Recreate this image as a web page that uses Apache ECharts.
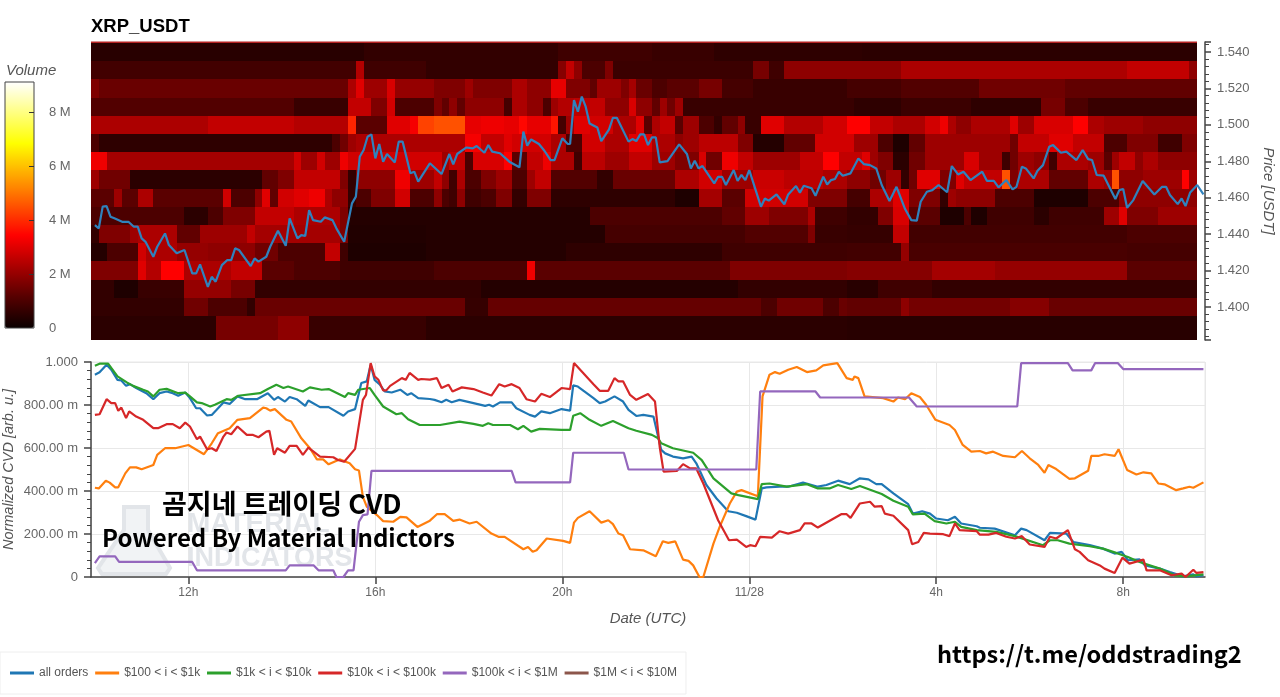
<!DOCTYPE html>
<html><head><meta charset="utf-8">
<style>html,body{margin:0;padding:0;background:#fff}#c{width:1280px;height:697px}</style>
<script src="https://cdn.jsdelivr.net/npm/echarts@6/dist/echarts.min.js"></script>
</head><body><div id="c"></div>
<script>
// All line data are [minutes after 11/27 10:00 UTC, value]
const priceLine=[[0,1.445],[5,1.4432],[10,1.4551],[15,1.4554],[20,1.4496],[25,1.4487],[35,1.4468],[43,1.4468],[50,1.4441],[55,1.4441],[60,1.4377],[65,1.4358],[75,1.4276],[80,1.4331],[90,1.4404],[95,1.434],[105,1.4295],[115,1.4313],[125,1.4185],[130,1.4185],[135,1.4234],[145,1.4111],[150,1.4166],[155,1.4139],[163,1.423],[170,1.4258],[175,1.4258],[180,1.4322],[185,1.4313],[200,1.4225],[205,1.4267],[210,1.4249],[220,1.4276],[225,1.4331],[235,1.4419],[245,1.4336],[250,1.4487],[260,1.4377],[265,1.4395],[270,1.439],[275,1.4532],[280,1.4477],[290,1.4468],[295,1.4492],[305,1.4477],[310,1.4432],[320,1.4358],[330,1.4569],[335,1.4606],[340,1.4825],[345,1.4862],[350,1.4935],[355,1.4948],[360,1.4816],[365,1.4895],[370,1.4798],[375,1.484],[385,1.4794],[390,1.4908],[395,1.4908],[405,1.4734],[410,1.4743],[415,1.4688],[430,1.4789],[445,1.473],[455,1.484],[460,1.4783],[465,1.484],[477,1.4876],[485,1.4871],[490,1.4884],[500,1.4847],[505,1.4889],[510,1.4853],[520,1.4844],[532,1.4798],[545,1.4767],[550,1.4963],[555,1.4886],[560,1.492],[570,1.4895],[577,1.4858],[585,1.4807],[590,1.4807],[600,1.4926],[607,1.4895],[610,1.4895],[615,1.5136],[620,1.5072],[625,1.5155],[630,1.51],[635,1.5008],[645,1.4986],[650,1.4911],[660,1.4975],[665,1.5039],[670,1.5039],[685,1.4908],[690,1.4922],[695,1.4911],[700,1.4948],[705,1.4948],[710,1.4889],[715,1.4931],[720,1.4931],[725,1.4794],[735,1.4801],[750,1.4893],[760,1.484],[765,1.4761],[770,1.4803],[775,1.4761],[780,1.4774],[795,1.4679],[800,1.4715],[805,1.4715],[810,1.467],[820,1.4752],[825,1.4692],[830,1.4725],[835,1.4697],[840,1.4752],[855,1.4551],[860,1.4596],[865,1.4584],[875,1.4618],[885,1.4564],[890,1.4618],[900,1.4664],[905,1.4628],[910,1.4666],[920,1.4652],[925,1.4611],[935,1.4715],[940,1.4673],[945,1.4697],[950,1.4703],[955,1.4743],[960,1.4721],[970,1.4734],[980,1.4816],[987,1.4785],[995,1.4779],[1003,1.4761],[1010,1.467],[1020,1.4582],[1029,1.466],[1040,1.4538],[1048,1.4477],[1055,1.4474],[1060,1.4578],[1068,1.4633],[1075,1.4642],[1083,1.467],[1094,1.463],[1100,1.4774],[1108,1.4728],[1115,1.4743],[1124,1.4697],[1139,1.4743],[1145,1.4693],[1154,1.4693],[1160,1.4657],[1170,1.4697],[1178,1.4646],[1183,1.466],[1190,1.477],[1195,1.4761],[1205,1.4706],[1210,1.4748],[1217,1.4779],[1225,1.488],[1230,1.4889],[1240,1.4847],[1247,1.4853],[1260,1.4807],[1268,1.4862],[1275,1.4812],[1280,1.4807],[1286,1.4725],[1295,1.4721],[1310,1.4593],[1315,1.4642],[1320,1.4648],[1325,1.4545],[1333,1.4587],[1345,1.4692],[1360,1.4618],[1370,1.466],[1375,1.466],[1380,1.4615],[1390,1.4565],[1395,1.4596],[1400,1.4554],[1406,1.4629],[1415,1.467],[1423,1.4618]];
const allOrders=[[0,941],[6,952],[15,987],[21,964],[29,917],[34,914],[40,889],[45,897],[53,879],[66,855],[75,827],[83,855],[92,863],[100,855],[107,843],[116,858],[122,832],[130,785],[135,785],[144,751],[150,754],[156,777],[165,812],[173,805],[183,840],[193,827],[208,827],[222,855],[230,824],[235,837],[244,816],[250,837],[259,827],[270,796],[274,821],[289,790],[300,790],[319,750],[325,770],[334,781],[342,902],[349,910],[354,987],[359,917],[366,894],[372,863],[381,858],[392,871],[401,847],[406,855],[415,832],[430,828],[436,824],[445,813],[451,824],[458,813],[468,824],[486,809],[501,796],[506,801],[511,793],[520,812],[535,812],[541,785],[558,754],[565,746],[573,770],[584,762],[599,781],[610,774],[614,891],[620,886],[640,832],[648,809],[655,816],[667,840],[678,816],[685,777],[695,749],[704,754],[717,746],[727,591],[732,575],[742,560],[755,552],[766,560],[772,529],[785,428],[798,365],[813,306],[824,299],[836,283],[848,267],[856,412],[862,417],[879,420],[890,420],[909,439],[928,420],[939,428],[954,448],[969,432],[982,459],[993,454],[1003,432],[1010,432],[1025,389],[1044,339],[1050,295],[1062,306],[1072,295],[1080,272],[1095,264],[1104,280],[1112,249],[1132,236],[1136,229],[1155,225],[1181,194],[1189,225],[1196,218],[1219,171],[1226,205],[1247,202],[1256,163],[1277,148],[1294,132],[1309,109],[1318,117],[1326,78],[1341,82],[1348,54],[1367,39],[1380,23],[1397,3],[1410,12],[1414,3],[1423,8]];
const usd100to1k=[[0,415],[5,412],[14,448],[19,439],[26,417],[30,417],[39,482],[45,510],[53,510],[60,501],[75,521],[80,568],[90,599],[103,599],[120,614],[140,571],[150,622],[158,669],[173,692],[183,731],[199,739],[216,788],[220,785],[225,774],[231,781],[246,731],[252,723],[265,645],[276,599],[285,547],[293,547],[300,524],[314,547],[327,529],[334,501],[339,495],[344,373],[349,327],[362,288],[370,260],[383,257],[392,280],[400,277],[414,233],[430,262],[439,292],[449,292],[460,261],[468,267],[481,249],[490,257],[509,202],[518,187],[526,187],[550,129],[556,140],[562,117],[567,124],[580,179],[601,168],[610,159],[615,253],[620,275],[635,306],[650,253],[659,264],[665,246],[672,202],[678,194],[687,129],[704,124],[720,96],[729,166],[736,159],[745,166],[755,81],[762,75],[768,54],[776,0],[781,0],[794,155],[802,233],[815,342],[824,397],[830,404],[851,376],[857,840],[866,941],[873,953],[879,945],[890,964],[901,977],[914,953],[926,961],[935,984],[953,995],[965,925],[973,917],[975,933],[980,925],[988,840],[1012,832],[1025,816],[1031,835],[1040,827],[1048,855],[1059,837],[1067,801],[1079,731],[1097,707],[1104,684],[1114,614],[1125,583],[1136,586],[1144,575],[1153,583],[1166,563],[1181,557],[1190,586],[1200,552],[1211,521],[1219,485],[1224,521],[1234,502],[1251,456],[1258,459],[1275,494],[1279,563],[1288,563],[1296,571],[1309,563],[1314,594],[1325,498],[1337,477],[1346,487],[1356,482],[1365,435],[1373,431],[1388,404],[1397,412],[1405,420],[1410,415],[1423,440]];
const usd1kto10k=[[0,983],[6,992],[17,992],[29,933],[41,905],[49,889],[62,871],[68,863],[75,840],[83,871],[92,875],[107,855],[116,858],[122,840],[131,812],[137,809],[148,793],[154,801],[169,827],[175,824],[184,843],[212,855],[222,874],[233,894],[242,879],[248,886],[267,863],[276,882],[291,871],[300,874],[321,837],[325,855],[334,847],[338,871],[353,879],[359,847],[370,793],[387,757],[394,762],[402,734],[417,707],[430,707],[443,707],[468,723],[486,712],[498,703],[505,715],[511,707],[533,707],[543,687],[550,703],[560,676],[571,689],[599,684],[610,684],[614,750],[623,762],[635,731],[650,703],[665,726],[685,692],[695,680],[715,661],[723,645],[727,622],[742,599],[768,578],[779,544],[794,459],[817,389],[826,381],[851,362],[856,432],[866,435],[888,420],[914,432],[928,412],[943,412],[954,428],[971,409],[982,423],[1010,386],[1025,355],[1044,327],[1050,291],[1065,295],[1078,260],[1093,249],[1104,257],[1112,233],[1132,218],[1157,210],[1181,190],[1217,148],[1226,171],[1236,171],[1251,155],[1277,143],[1294,132],[1311,112],[1326,93],[1341,70],[1367,39],[1386,8],[1401,3],[1423,12]];
const usd10kto100k=[[0,754],[6,757],[15,827],[21,809],[26,809],[30,773],[34,788],[40,739],[44,770],[53,746],[62,731],[75,692],[81,692],[92,711],[100,711],[109,692],[116,718],[122,700],[131,641],[135,653],[144,594],[150,599],[156,586],[165,653],[169,672],[175,664],[183,700],[195,661],[203,661],[210,650],[220,676],[224,680],[230,568],[234,599],[244,578],[250,610],[259,610],[267,568],[274,602],[289,560],[306,557],[312,544],[320,536],[334,596],[344,824],[348,847],[354,995],[359,933],[364,917],[370,868],[374,868],[379,889],[394,925],[399,917],[404,949],[415,917],[419,921],[430,918],[439,925],[445,879],[454,894],[459,863],[471,882],[486,874],[498,858],[509,844],[519,897],[526,886],[535,897],[545,879],[554,827],[565,816],[573,852],[584,837],[599,879],[610,874],[615,995],[640,897],[648,866],[659,866],[667,925],[672,910],[678,910],[687,847],[695,824],[710,851],[719,816],[725,606],[730,490],[747,493],[755,525],[764,505],[772,505],[781,435],[800,264],[814,171],[824,174],[836,140],[841,148],[848,143],[854,187],[869,183],[879,213],[890,202],[905,218],[911,249],[920,249],[928,230],[958,292],[965,292],[970,275],[982,342],[995,350],[1001,327],[1010,330],[1014,295],[1025,285],[1044,218],[1049,152],[1057,163],[1064,205],[1072,202],[1089,199],[1097,190],[1104,249],[1110,218],[1132,213],[1136,197],[1147,197],[1157,205],[1170,187],[1181,179],[1190,190],[1200,151],[1219,140],[1226,187],[1234,179],[1249,218],[1258,129],[1264,117],[1275,78],[1290,54],[1296,39],[1309,19],[1319,90],[1328,62],[1346,81],[1350,31],[1367,31],[1382,8],[1395,16],[1400,0],[1410,34],[1414,19],[1423,23]];
const usd100kto1m=[[0,65],[6,96],[26,96],[31,70],[125,70],[131,31],[245,31],[250,54],[281,54],[287,31],[306,31],[310,0],[319,0],[325,31],[332,31],[339,257],[344,288],[350,291],[355,494],[535,494],[540,440],[610,440],[614,578],[679,578],[685,500],[849,500],[854,863],[925,863],[931,835],[1045,835],[1055,793],[1184,793],[1189,995],[1249,995],[1255,961],[1279,961],[1284,995],[1313,995],[1320,967],[1423,967]];
const usd1mto10m=[];
const seriesNames=['all orders','$100 < i < $1k','$1k < i < $10k','$10k < i < $100k','$100k < i < $1M','$1M < i < $10M'];
const yTickLabels={1000:'1.000',800:'800.00 m',600:'600.00 m',400:'400.00 m',200:'200.00 m',0:'0'};
// Volume heat rows (M): [first 10-minute column of a run, volume]
const rowPrices=[1.54,1.53,1.52,1.51,1.50,1.49,1.48,1.47,1.46,1.45,1.44,1.43,1.42,1.41,1.40,1.39];
const heat154=[[0,.45],[35,.6],[60,.8],[72,.7],[80,.55],[99,.5]];
const heat153=[[0,.85],[34,2.4],[35,.8],[43,.6],[60,1.8],[61,2.6],[62,1.9],[63,1],[66,1.7],[67,.75],[85,1.6],[87,.8],[89,1.9],[104,2.3],[133,2.6],[141,1.9]];
const heat152=[[0,1.7],[1,1.4],[33,2.3],[34,3],[35,2.1],[38,2.9],[39,2],[44,1.7],[48,2.1],[49,1.7],[54,2.3],[56,1.9],[59,3.1],[61,1.7],[64,1.3],[65,2.1],[68,1.7],[69,2.2],[70,1.4],[72,1],[74,1.2],[78,1.6],[81,.9],[85,.7],[97,.9],[104,1.1],[114,1.5],[125,1.3]];
const heat151=[[0,1.1],[26,.7],[33,2.6],[36,1.7],[38,2.8],[39,1],[44,1.7],[45,1.3],[46,1.9],[47,1.3],[48,1.9],[53,.9],[54,2.3],[56,1.9],[58,1],[59,2.1],[60,2.4],[62,2.5],[64,2.6],[66,1.9],[69,2.9],[70,1.9],[72,1.3],[73,2.1],[74,1.5],[75,2.1],[76,.7],[98,.55],[104,.75],[113,.55],[122,1.6],[125,1],[128,.7]];
const heat150=[[0,2.3],[15,2.6],[26,2.4],[33,3.9],[34,1.2],[38,3],[41,3.3],[42,4.3],[44,4.5],[48,3.1],[50,3.2],[53,3.1],[55,3.5],[56,3.1],[59,3.7],[60,.9],[61,2.1],[62,3],[64,2.8],[67,2.3],[70,3],[71,1.2],[72,2.3],[73,2.6],[75,1.2],[76,2.1],[78,1],[80,.6],[81,1.3],[83,1.9],[84,.7],[86,3],[89,2.4],[94,2.8],[97,3.4],[100,2.6],[103,2.3],[107,2.8],[109,3.2],[110,2.3],[111,1.9],[113,2.3],[118,3],[119,2.1],[121,2.9],[126,3.4],[128,2.3],[130,2.1],[135,1.9]];
const heat149=[[0,1],[1,.55],[31,1],[32,1.5],[33,2.1],[34,2.3],[48,3.3],[50,2.6],[53,3],[54,2.8],[59,2.3],[61,1],[63,2.8],[66,2.3],[69,3],[72,2.3],[75,1.9],[76,2.1],[78,2.5],[83,1.7],[85,.4],[89,1.3],[93,2.8],[98,2.1],[101,1],[103,.3],[105,1.3],[107,2.1],[118,1.5],[119,2.6],[123,3],[126,2.6],[130,1],[133,1.7],[137,.8],[140,1.7]];
const heat148=[[0,3.2],[2,2.2],[26,2.8],[27,2.1],[29,2.8],[30,2.1],[32,3.2],[33,2.8],[45,2.1],[46,2.6],[48,1],[49,2.9],[53,3.4],[54,1.2],[56,2.6],[58,3.2],[59,2.3],[62,.8],[63,2.5],[66,2.1],[69,2.6],[72,2.1],[75,1.7],[78,2.9],[79,1.5],[81,3.2],[83,2.6],[85,2.1],[91,2.6],[94,3.4],[96,2.6],[99,3],[100,2.1],[101,1.7],[103,.5],[105,1.5],[107,2.1],[112,2.9],[114,2.1],[117,.8],[118,1.5],[119,2.1],[121,1.9],[123,.8],[124,2.3],[128,2.1],[130,1.2],[131,2.1],[132,2.6],[134,1.9],[135,2.3],[137,1.9]];
const heat147=[[0,2.1],[1,1.5],[5,.5],[22,1.3],[24,1.7],[26,2.6],[32,1.7],[33,.6],[34,1.9],[39,3.2],[41,2.1],[44,2.6],[45,1.9],[46,.8],[47,2.3],[48,1],[50,1.7],[52,2.1],[54,1],[56,2.1],[57,2.6],[59,1.1],[65,.6],[67,1.4],[75,2.3],[78,2.8],[81,2.1],[85,2.7],[89,2.5],[94,2.3],[97,1.9],[100,1.5],[102,2.1],[104,.6],[105,1.5],[106,3],[109,1.7],[111,3],[112,2.6],[117,4.5],[118,1.7],[119,2.3],[123,1.3],[128,2.3],[130,2.1],[131,4.5],[132,1.9],[135,2.1],[140,3.4],[141,2.1]];
const heat146=[[0,1.2],[3,2.1],[4,1.2],[6,2.3],[8,1.2],[17,2.8],[18,1],[21,1.9],[22,3],[23,1.3],[24,2.8],[26,3],[28,3.2],[30,2.3],[31,1.9],[33,.6],[34,1],[36,1.7],[39,2.8],[41,1],[44,1.9],[45,1],[46,.8],[47,1.9],[48,.8],[50,1],[52,1.7],[54,.6],[56,1.7],[59,.55],[75,.3],[78,2.2],[81,1.2],[84,2.8],[92,1.7],[97,.9],[100,2.3],[103,3],[105,1.7],[109,.6],[110,2.1],[111,1.9],[116,1],[121,.3],[128,1],[132,1.9]];
const heat145=[[0,1],[12,.5],[15,1],[17,1.7],[21,2.6],[26,2.3],[32,1.7],[33,.4],[64,1],[81,1.3],[84,2.1],[87,1.7],[92,2.3],[93,.8],[97,.6],[101,1.7],[103,2.9],[105,1.2],[109,.3],[112,1],[113,.3],[115,.8],[121,.5],[123,.8],[130,2.1],[132,3],[133,1.7],[137,2.1]];
const heat144=[[0,.6],[1,1.7],[5,2.1],[6,2.3],[11,1.3],[14,2.1],[20,2.6],[21,2.2],[32,1.7],[33,.35],[43,.4],[66,.9],[84,1.1],[92,1.7],[93,.7],[97,.65],[103,2.6],[105,.85],[133,1]];
const heat143=[[0,.4],[2,1],[6,2.8],[7,2.3],[11,2],[15,1.9],[21,1.5],[24,1],[30,2.6],[32,.8],[33,.3],[43,.4],[61,.55],[81,.8],[97,.85],[104,2],[105,.95],[133,.9]];
const heat142=[[0,1.7],[6,3],[7,2.4],[9,3.4],[12,2.3],[18,2.6],[22,1.2],[26,1],[32,.8],[44,1],[56,3.2],[57,1.2],[82,1.7],[97,1.8],[108,2.2],[116,2],[133,1.2]];
const heat141=[[0,.6],[3,.3],[6,.7],[12,2],[18,1.6],[21,.6],[50,.4],[83,.6],[97,.45],[101,.8],[108,.6]];
const heat140=[[0,.6],[12,1.5],[15,1],[20,.6],[21,1.4],[48,.65],[51,1.35],[86,1],[88,1.5],[94,1],[96,1.4],[97,1.3],[104,1.9],[105,1.55],[118,1.8],[123,1.4]];
const heat139=[[0,.5],[16,1.6],[24,1.9],[28,.7],[43,.5],[97,.45]];
const heatRows=[heat154,heat153,heat152,heat151,heat150,heat149,heat148,heat147,heat146,heat145,heat144,heat143,heat142,heat141,heat140,heat139];

const BASE=Date.UTC(2024,10,27,10,0);
const toMs=m=>BASE+m*60000;
const X_MIN=toMs(-5),X_MAX=toMs(1425);
const P_MIN=1.3819,P_MAX=1.5455,COLS=142;
const FONT='"Liberation Sans",Arial,sans-serif';
const heatData=[];
heatRows.forEach((runs,r)=>{
  const p=rowPrices[r];
  const high=r===0?P_MAX:p+0.005, low=r===rowPrices.length-1?P_MIN:p-0.005;
  runs.forEach((run,k)=>{
    const next=k+1<runs.length?runs[k+1][0]:COLS;
    heatData.push([toMs(run[0]*10-5),toMs(next*10-5),low,high,run[1]]);
  });
});
const pts=a=>a.map(d=>[toMs(d[0]),d[1]]);
const cvd=[allOrders,usd100to1k,usd1kto10k,usd10kto100k,usd100kto1m,usd1mto10m];
const colors=['#1f77b4','#ff7f0e','#2ca02c','#d62728','#9467bd','#8c564b'];
const axisDark='#444';
const WM='#e2e5e9';
const chart=echarts.init(document.getElementById('c'),null,{renderer:'canvas'});
chart.setOption({
  animation:false,useUTC:true,backgroundColor:'#fff',
  textStyle:{fontFamily:FONT},
  title:{text:'XRP_USDT',left:91,top:17,padding:0,textStyle:{fontFamily:FONT,fontWeight:'bold',fontSize:18.5,color:'#000'}},
  grid:[
    {left:91,right:75,top:42,height:298,outerBoundsMode:'none'},
    {left:91,right:75,top:362,height:215,show:true,borderColor:'#e8e8e8',borderWidth:1,backgroundColor:'transparent',outerBoundsMode:'none'},
    {left:5,width:29,top:82,height:246,show:true,z:10,borderColor:'#444',borderWidth:1,backgroundColor:'transparent',outerBoundsMode:'none'},
    {left:29,width:5,top:82,height:246,outerBoundsMode:'none'}
  ],
  xAxis:[
    {gridIndex:0,type:'time',min:X_MIN,max:X_MAX,show:false},
    {gridIndex:1,type:'time',min:X_MIN,max:X_MAX,minInterval:4*3600000,maxInterval:4*3600000,
     name:'Date (UTC)',nameLocation:'middle',nameGap:34,nameTextStyle:{fontStyle:'italic',fontSize:15,color:'#555',fontFamily:FONT},
     axisLine:{lineStyle:{color:axisDark,width:1.5}},axisTick:{length:7,lineStyle:{color:axisDark,width:1.5}},
     axisLabel:{color:'#666',fontSize:12,margin:10,showMinLabel:false,showMaxLabel:false,hideOverlap:false,
       formatter:v=>{const d=new Date(v);if(d.getUTCMinutes()!==0||d.getUTCHours()%4!==0)return '';const h=d.getUTCHours();return h===0?'11/28':h+'h';}},
     splitLine:{show:true,lineStyle:{color:'#e8e8e8',width:1}}},
    {gridIndex:2,type:'value',min:0,max:1,show:false},
    {gridIndex:3,type:'value',min:0,max:1,show:false}
  ],
  yAxis:[
    {gridIndex:0,type:'value',position:'right',min:P_MIN,max:P_MAX,splitNumber:8,
     name:'Price [USDT]',nameLocation:'middle',nameRotate:-90,nameGap:55,nameTextStyle:{fontStyle:'italic',fontSize:15,color:'#555',fontFamily:FONT},
     axisLine:{show:true,lineStyle:{color:axisDark,width:1.5}},axisTick:{show:true,length:6,lineStyle:{color:axisDark,width:1.5}},
     minorTick:{show:true,splitNumber:5,length:4,lineStyle:{color:axisDark,width:1}},splitLine:{show:false},
     axisLabel:{color:'#666',fontSize:13,margin:12,showMinLabel:false,showMaxLabel:false,formatter:v=>v.toFixed(3)}},
    {gridIndex:1,type:'value',min:0,max:1000,interval:200,
     name:'Normalized CVD [arb. u.]',nameLocation:'middle',nameRotate:90,nameGap:75,nameMoveOverlap:false,nameTextStyle:{fontStyle:'italic',fontSize:14.5,color:'#555',fontFamily:FONT},
     axisLine:{show:true,lineStyle:{color:axisDark,width:1.5}},axisTick:{show:true,length:7,lineStyle:{color:axisDark,width:1.5}},
     minorTick:{show:true,splitNumber:5,length:4,lineStyle:{color:axisDark,width:1}},
     splitLine:{show:true,lineStyle:{color:'#e8e8e8',width:1}},
     axisLabel:{color:'#666',fontSize:13,margin:13,formatter:v=>yTickLabels[v]}},
    {gridIndex:2,type:'value',position:'right',min:0,max:9.11,interval:2,z:12,
     axisLine:{show:false},axisTick:{show:false},splitLine:{show:false},
     axisLabel:{color:'#666',fontSize:13,margin:15,showMaxLabel:false,formatter:v=>v===0?'0':v+' M'}},
    {gridIndex:3,type:'value',min:0,max:9.11,interval:2,z:12,
     axisLine:{show:false},axisTick:{show:false},axisLabel:{show:false},
     splitLine:{show:true,showMinLine:false,showMaxLine:false,lineStyle:{color:'#333',width:1}}}
  ],
  visualMap:{type:'continuous',show:true,seriesIndex:0,dimension:4,min:0,max:9.11,left:5,top:82,padding:0,itemWidth:29,itemHeight:246,
    calculable:false,hoverLink:false,text:null,
    inRange:{color:['#0a0000','#550000','#aa0000','#ff0000','#ff5500','#ffaa00','#ffff00','#ffff80','#ffffff']}},
  legend:{left:0,top:652,padding:[15,9,15,10],icon:'rect',itemWidth:24,itemHeight:3,itemGap:6.8,borderColor:'#eeeeee',borderWidth:1,
    textStyle:{color:'#555',fontSize:12,fontFamily:FONT},data:seriesNames,selectedMode:false},
  series:[
    {type:'custom',name:'Volume',xAxisIndex:0,yAxisIndex:0,clip:true,silent:true,z:1,
     encode:{x:[0,1],y:[2,3]},data:heatData,
     renderItem:(params,api)=>{
       const a=api.coord([api.value(0),api.value(3)]),b=api.coord([api.value(1),api.value(2)]);
       const x=Math.round(a[0]),y=Math.round(a[1]);
       return {type:'rect',shape:{x,y,width:Math.round(b[0])-x,height:Math.round(b[1])-y},style:{fill:api.visual('color')}};
     }},
    {type:'line',name:'Price',xAxisIndex:0,yAxisIndex:0,data:pts(priceLine),symbol:'none',silent:true,z:3,
     lineStyle:{color:'#2f82bd',width:2.2},itemStyle:{color:'#2f82bd'}},
    ...seriesNames.map((n,i)=>({type:'line',name:n,xAxisIndex:1,yAxisIndex:1,data:pts(cvd[i]),symbol:'none',silent:true,z:3,
      lineStyle:{color:colors[i],width:2.2},itemStyle:{color:colors[i]}}))
  ],
  graphic:[
    {type:'rect',silent:true,z:5,shape:{x:91,y:41.5,width:1106,height:1.5},style:{fill:'#b52222'}},
    {type:'text',silent:true,z:5,x:6,y:71,style:{text:'Volume',font:'italic 15px '+FONT,fill:'#555',textVerticalAlign:'middle'}},
    {type:'polygon',silent:true,z:1,shape:{points:[[124,507],[148,507],[148,530],[170,568],[166,574],[102,574],[98,568],[124,530]]},style:{fill:'#f1f3f5',stroke:WM,lineWidth:4}},
    {type:'text',silent:true,z:1,x:187,y:524,style:{text:'MATERIAL',font:'bold 28px '+FONT,fill:WM,textVerticalAlign:'middle'}},
    {type:'text',silent:true,z:1,x:187,y:559,style:{text:'INDICATORS',font:'bold 27px '+FONT,fill:WM,textVerticalAlign:'middle'}},
    {type:'text',silent:true,z:20,x:162,y:504,style:{text:'곰지네 트레이딩 CVD',font:'bold 27px "Noto Sans CJK KR"',fill:'#000',textVerticalAlign:'middle'}},
    {type:'text',silent:true,z:20,x:102,y:538,style:{text:'Powered By Material Indictors',font:'bold 24px "Noto Sans CJK KR"',fill:'#000',textVerticalAlign:'middle'}},
    {type:'text',silent:true,z:20,x:937,y:654,style:{text:'https://t.me/oddstrading2',font:'bold 23.6px "Noto Sans CJK KR"',fill:'#000',textVerticalAlign:'middle'}}
  ]
});
</script></body></html>
